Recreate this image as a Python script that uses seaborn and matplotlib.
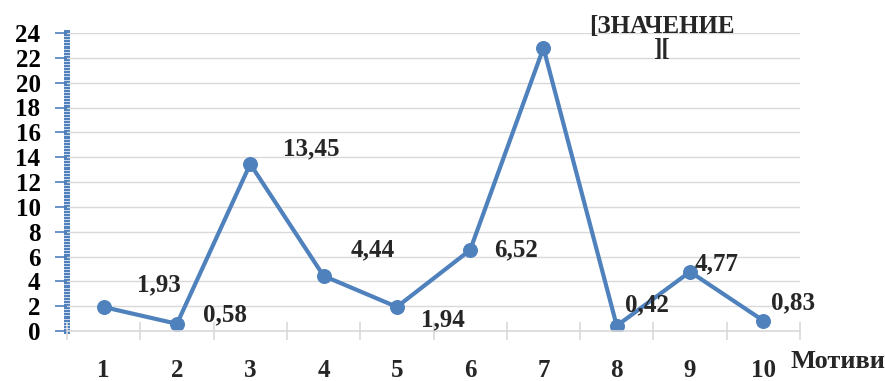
import numpy as np
import pandas as pd
import matplotlib
matplotlib.use("Agg")
import matplotlib.pyplot as plt
import seaborn as sns
from matplotlib.ticker import MultipleLocator

# данни
motives = [1, 2, 3, 4, 5, 6, 7, 8, 9, 10]
values = [1.93, 0.58, 13.45, 4.44, 1.94, 6.52, 22.8, 0.42, 4.77, 0.83]
point_labels = ["1,93", "0,58", "13,45", "4,44", "1,94", "6,52",
                "[ЗНАЧЕНИЕ\n][", "0,42", "4,77", "0,83"]
y_ticks = list(range(0, 25, 2))

# отмествания на етикетите (пиксели)
label_offsets = [(55, 22), (48, 9), (61, 15), (49, 26), (46, -13),
                 (46, 0), (118, 10), (30, 21), (27, 8), (30, 18)]

sns.set_style("white")
plt.rcParams["font.family"] = ["Liberation Serif", "DejaVu Serif"]
plt.rcParams["font.weight"] = "bold"

blue = "#4f81bd"
fs = 18
df = pd.DataFrame({"Мотив": motives, "Стойност": values})

fig = plt.figure(figsize=(8.85, 3.81), dpi=100)
ax = fig.add_axes([67 / 885, 50 / 381, 733 / 885, 298 / 381])

sns.lineplot(data=df, x="Мотив", y="Стойност", ax=ax, color=blue,
             linewidth=3, marker="o", markersize=10, markeredgecolor=blue)

ax.set_xlim(0.5, 10.5)
ax.set_ylim(0, 24)
ax.set_yticks(y_ticks)
ax.set_xticks(motives)
ax.xaxis.set_minor_locator(MultipleLocator(1, offset=0.5))
ax.yaxis.set_minor_locator(MultipleLocator(0.25))
ax.set_xlabel("")
ax.set_ylabel("")

ax.grid(axis="y", color="#d9d9d9", linewidth=1)
ax.set_axisbelow(True)
for s in ["top", "right"]:
    ax.spines[s].set_visible(False)
ax.spines["bottom"].set_color("#d9d9d9")
ax.spines["bottom"].set_linewidth(1.2)
ax.spines["left"].set_color(blue)
ax.spines["left"].set_linewidth(4.3)
ax.spines["left"].set_zorder(0.4)  # бели чертички върху синята ос

ax.tick_params(which="both", left=True, bottom=True)
ax.tick_params(axis="y", which="major", colors=blue, length=9, width=1.2,
               direction="out", pad=10, labelsize=fs, labelcolor="black")
ax.tick_params(axis="y", which="minor", colors="white", length=6, width=0.5,
               direction="inout")
ax.tick_params(axis="x", which="major", length=0, pad=20, labelsize=fs)
ax.tick_params(axis="x", which="minor", colors="#d9d9d9", length=13,
               width=1.2, direction="inout")
for lbl in ax.get_xticklabels() + ax.get_yticklabels():
    lbl.set_fontweight("bold")

for x, y, t, off in zip(motives, values, point_labels, label_offsets):
    ax.annotate(t, (x, y), xytext=off, textcoords="offset pixels",
                ha="center", va="center", fontsize=fs, fontweight="bold",
                linespacing=1.0)

fig.text(838 / 885, 1 - 362 / 381, "Мотиви", ha="center", va="center",
         fontsize=19, fontweight="bold")

plt.savefig("out.png", dpi=100)
